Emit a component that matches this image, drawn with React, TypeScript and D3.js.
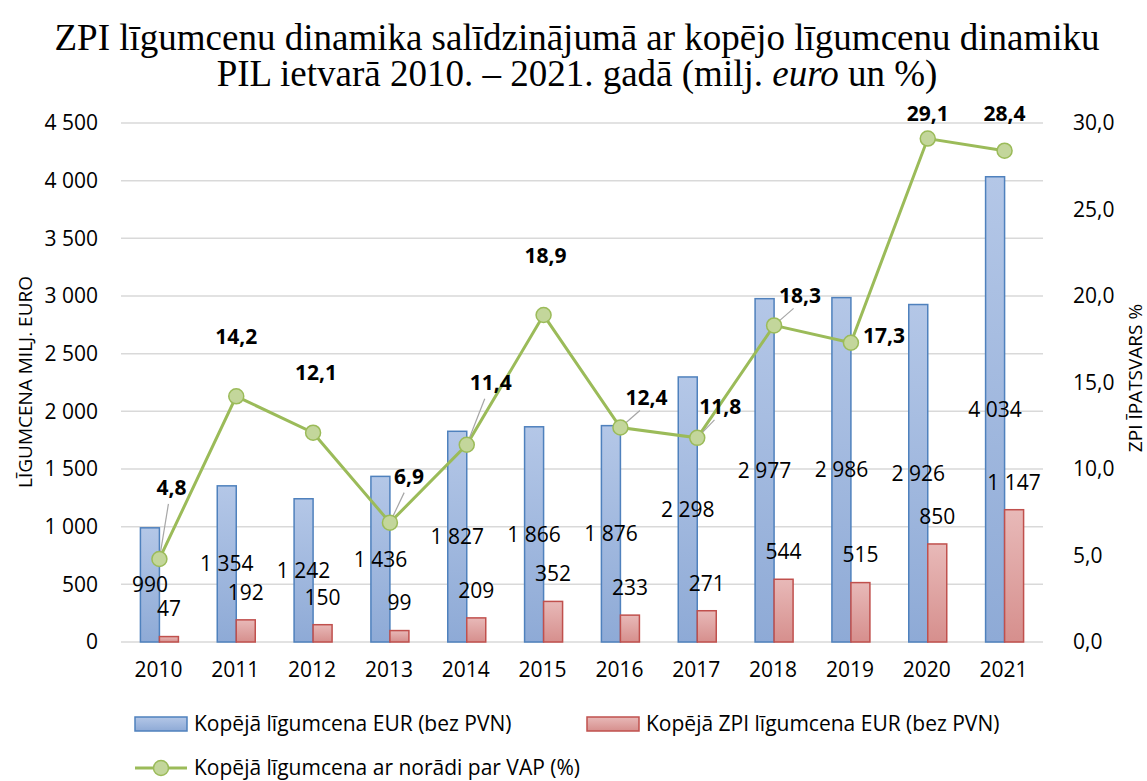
import React, { useEffect, useRef } from 'react';
import * as d3 from 'd3';

const years = ['2010', '2011', '2012', '2013', '2014', '2015', '2016', '2017', '2018', '2019', '2020', '2021'];
const totalValues = [990, 1354, 1242, 1436, 1827, 1866, 1876, 2298, 2977, 2986, 2926, 4034];
const zpiValues = [47, 192, 150, 99, 209, 352, 233, 271, 544, 515, 850, 1147];
const sharePct = [4.8, 14.2, 12.1, 6.9, 11.4, 18.9, 12.4, 11.8, 18.3, 17.3, 29.1, 28.4];

const leftTicks = [0, 500, 1000, 1500, 2000, 2500, 3000, 3500, 4000, 4500];
const rightTicks = [0, 5, 10, 15, 20, 25, 30];

const seriesNames = [
  'Kopējā līgumcena EUR (bez PVN)',
  'Kopējā ZPI līgumcena EUR (bez PVN)',
  'Kopējā līgumcena ar norādi par VAP (%)',
];

// hand-placed labels of the line (offset of label centre from point, leader line or not)
const lineLabelPos = [
  { dx: 12, dy: -71, lead: true },
  { dx: 0, dy: -60, lead: false },
  { dx: 3, dy: -60, lead: false },
  { dx: 19, dy: -46, lead: true },
  { dx: 24, dy: -62, lead: true },
  { dx: 2, dy: -59, lead: false },
  { dx: 26, dy: -30, lead: true },
  { dx: 23, dy: -31, lead: true },
  { dx: 26, dy: -30, lead: true },
  { dx: 33, dy: -7, lead: false },
  { dx: 0, dy: -25, lead: false },
  { dx: 0, dy: -37, lead: false },
];

const W = 1147;
const H = 781;
const FONT = "'Open Sans', sans-serif";
const FS = '21px';

const loc = d3.formatLocale({ decimal: ',', thousands: '\u00a0', grouping: [3], currency: ['', ''] });
const fmtInt = loc.format(',d');
const fmtPct = loc.format('.1f');

export default function App() {
  const ref = useRef<SVGSVGElement>(null);

  useEffect(() => {
    document.body.style.margin = '0';
    const svg = d3.select(ref.current);
    svg.selectAll('*').remove();

    const margin = { top: 123, right: W - 1043, bottom: H - 642, left: 121 };

    const x = d3.scaleBand().domain(years).range([margin.left, W - margin.right]);
    const yL = d3.scaleLinear().domain([0, 4500]).range([H - margin.bottom, margin.top]);
    const yR = d3.scaleLinear().domain([0, 30]).range([H - margin.bottom, margin.top]);
    const cx = (i: number) => (x(years[i]) as number) + x.bandwidth() / 2;
    const barW = 19;

    const defs = svg.append('defs');
    const grad = (id: string, c1: string, c2: string) => {
      const g = defs.append('linearGradient').attr('id', id).attr('x1', 0).attr('y1', 0).attr('x2', 0).attr('y2', 1);
      g.append('stop').attr('offset', '0%').attr('stop-color', c1);
      g.append('stop').attr('offset', '100%').attr('stop-color', c2);
    };
    grad('gBlue', '#b4c7e7', '#8eaad6');
    grad('gRed', '#e8b9b8', '#d68f8d');

    // title
    const title = svg.append('text')
      .attr('text-anchor', 'middle')
      .style('font-family', "'Liberation Serif', 'Times New Roman', serif")
      .style('font-size', '37px')
      .attr('fill', '#000');
    title.append('tspan').attr('x', 577).attr('y', 50)
      .text('ZPI līgumcenu dinamika salīdzinājumā ar kopējo līgumcenu dinamiku');
    const l2 = title.append('tspan').attr('x', 577).attr('y', 86);
    l2.text('PIL ietvarā 2010. – 2021. gadā (milj. ');
    title.append('tspan').style('font-style', 'italic').text('euro');
    title.append('tspan').text(' un %)');

    // gridlines
    svg.append('g')
      .selectAll('line')
      .data(leftTicks)
      .enter()
      .append('line')
      .attr('x1', margin.left)
      .attr('x2', W - margin.right)
      .attr('y1', (d) => yL(d))
      .attr('y2', (d) => yL(d))
      .attr('stroke', '#d9d9d9')
      .attr('stroke-width', 1.5);

    // axes
    const axL = svg.append('g')
      .attr('transform', `translate(${margin.left},0)`)
      .call(d3.axisLeft(yL).tickValues(leftTicks).tickFormat((d) => fmtInt(d as number)).tickSize(0).tickPadding(23));
    const axR = svg.append('g')
      .attr('transform', `translate(${W - margin.right},0)`)
      .call(d3.axisRight(yR).tickValues(rightTicks).tickFormat((d) => fmtPct(d as number)).tickSize(0).tickPadding(30));
    const axB = svg.append('g')
      .attr('transform', `translate(0,${H - margin.bottom})`)
      .call(d3.axisBottom(x).tickSize(0).tickPadding(20));
    [axL, axR, axB].forEach((a) => {
      a.select('.domain').remove();
      a.selectAll('text').style('font-family', FONT).style('font-size', FS).attr('fill', '#000');
    });
    axB.selectAll('text').attr('dx', -1);

    // axis titles
    svg.append('text')
      .attr('transform', `translate(32,382) rotate(-90)`)
      .attr('text-anchor', 'middle')
      .style('font-family', FONT)
      .style('font-size', '19px')
      .text('LĪGUMCENA MILJ. EURO');
    svg.append('text')
      .attr('transform', `translate(1142,378) rotate(-90)`)
      .attr('text-anchor', 'middle')
      .style('font-family', FONT)
      .style('font-size', '19px')
      .text('ZPI ĪPATSVARS %');

    // bars
    svg.append('g')
      .selectAll('rect')
      .data(totalValues)
      .enter()
      .append('rect')
      .attr('x', (d, i) => cx(i) - barW)
      .attr('y', (d) => yL(d))
      .attr('width', barW)
      .attr('height', (d) => yL(0) - yL(d))
      .attr('fill', 'url(#gBlue)')
      .attr('stroke', '#4f81bd')
      .attr('stroke-width', 1.5);
    svg.append('g')
      .selectAll('rect')
      .data(zpiValues)
      .enter()
      .append('rect')
      .attr('x', (d, i) => cx(i))
      .attr('y', (d) => yL(d))
      .attr('width', barW)
      .attr('height', (d) => yL(0) - yL(d))
      .attr('fill', 'url(#gRed)')
      .attr('stroke', '#c0504d')
      .attr('stroke-width', 1.5);

    // line
    const line = d3.line<number>()
      .x((d, i) => cx(i))
      .y((d) => yR(d));
    svg.append('path')
      .datum(sharePct)
      .attr('d', line)
      .attr('fill', 'none')
      .attr('stroke', '#9bbb59')
      .attr('stroke-width', 3);

    // leader lines
    const leads = sharePct.map((v, i) => ({ v, i })).filter((d) => lineLabelPos[d.i].lead);
    svg.append('g')
      .selectAll('line')
      .data(leads)
      .enter()
      .append('line')
      .attr('x1', (d) => cx(d.i))
      .attr('y1', (d) => yR(d.v))
      .attr('x2', (d) => cx(d.i) + lineLabelPos[d.i].dx * 0.75)
      .attr('y2', (d) => {
        const p = lineLabelPos[d.i];
        return yR(d.v) + p.dy + (p.dy < -40 ? 16 : 13);
      })
      .attr('stroke', '#a6a6a6')
      .attr('stroke-width', 1.2);

    svg.append('g')
      .selectAll('circle')
      .data(sharePct)
      .enter()
      .append('circle')
      .attr('cx', (d, i) => cx(i))
      .attr('cy', (d) => yR(d))
      .attr('r', 7.5)
      .attr('fill', '#c3d69b')
      .attr('stroke', '#9bbb59')
      .attr('stroke-width', 1.5);

    // data labels
    svg.append('g')
      .selectAll('text')
      .data(totalValues)
      .enter()
      .append('text')
      .attr('x', (d, i) => cx(i) - barW / 2)
      .attr('y', (d) => (yL(d) + yL(0)) / 2)
      .attr('dy', '0.35em')
      .attr('text-anchor', 'middle')
      .style('font-family', FONT)
      .style('font-size', FS)
      .text((d) => fmtInt(d));
    svg.append('g')
      .selectAll('text')
      .data(zpiValues)
      .enter()
      .append('text')
      .attr('x', (d, i) => cx(i) + barW / 2)
      .attr('y', (d) => yL(d) - 27.5)
      .attr('dy', '0.35em')
      .attr('text-anchor', 'middle')
      .style('font-family', FONT)
      .style('font-size', FS)
      .text((d) => fmtInt(d));
    svg.append('g')
      .selectAll('text')
      .data(sharePct)
      .enter()
      .append('text')
      .attr('x', (d, i) => cx(i) + lineLabelPos[i].dx)
      .attr('y', (d, i) => yR(d) + lineLabelPos[i].dy)
      .attr('dy', '0.35em')
      .attr('text-anchor', 'middle')
      .style('font-family', FONT)
      .style('font-size', FS)
      .style('font-weight', 'bold')
      .text((d) => fmtPct(d));

    // legend
    const lg = svg.append('g').style('font-family', FONT).style('font-size', FS);
    const sw = [
      { x: 135, y: 724, fill: 'url(#gBlue)', stroke: '#4f81bd' },
      { x: 587, y: 724, fill: 'url(#gRed)', stroke: '#c0504d' },
    ];
    sw.forEach((s, i) => {
      lg.append('rect').attr('x', s.x).attr('y', s.y - 7).attr('width', 52).attr('height', 14)
        .attr('fill', s.fill).attr('stroke', s.stroke).attr('stroke-width', 1.5);
      lg.append('text').attr('x', s.x + 59).attr('y', s.y).attr('dy', '0.35em').text(seriesNames[i]);
    });
    lg.append('line').attr('x1', 135).attr('x2', 187).attr('y1', 768).attr('y2', 768)
      .attr('stroke', '#9bbb59').attr('stroke-width', 3);
    lg.append('circle').attr('cx', 161).attr('cy', 768).attr('r', 7.5)
      .attr('fill', '#c3d69b').attr('stroke', '#9bbb59').attr('stroke-width', 1.5);
    lg.append('text').attr('x', 194).attr('y', 768).attr('dy', '0.33em').text(seriesNames[2]);
  }, []);

  return (
    <svg ref={ref} width={W} height={H} style={{ display: 'block', background: '#fff' }} />
  );
}
